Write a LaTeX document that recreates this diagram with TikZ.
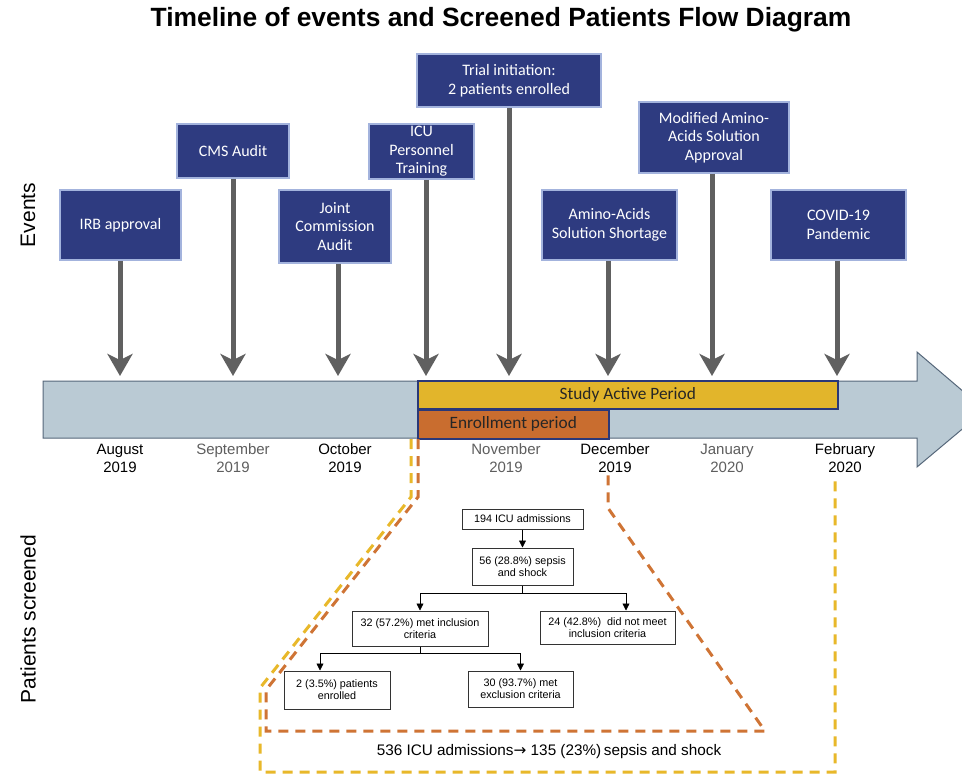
\documentclass[tikz,border=0pt]{standalone}
\usepackage{fontspec}
\setmainfont{Liberation Sans}
\newfontfamily\calib{Carlito}
\newfontfamily\djv{DejaVu Sans}
\usetikzlibrary{arrows.meta,calc}
\definecolor{navy}{HTML}{2E3B80}
\definecolor{evborder}{HTML}{A3B3DD}
\definecolor{stemgray}{HTML}{606060}
\definecolor{bandfill}{HTML}{BACAD4}
\definecolor{bandedge}{HTML}{56677A}
\definecolor{gold}{HTML}{E2B52B}
\definecolor{rust}{HTML}{C96D2F}
\definecolor{barborder}{HTML}{2A3878}
\definecolor{dashyellow}{HTML}{E8B82A}
\definecolor{dashorange}{HTML}{CF7435}
\definecolor{lightmonth}{HTML}{5E5E5E}
\begin{document}
\begin{tikzpicture}[x=1pt,y=-1pt,
  evbox/.style={draw=evborder, line width=1.5pt, fill=navy, text=white,
    font=\calib\fontsize{16}{18.5}\selectfont, align=center, inner sep=2pt},
  stem/.style={draw=stemgray, line width=5pt,
    -{Stealth[length=22pt,width=25pt,inset=6pt,fill=stemgray]}},
  month/.style={font=\fontsize{15}{18}\selectfont, align=center, text=black},
  lmonth/.style={month, text=lightmonth},
  fcbox/.style={draw=black!80, line width=1pt, fill=white,
    font=\fontsize{10.8}{12}\selectfont, align=center, inner sep=0pt},
  fcarrow/.style={draw=black, line width=0.8pt, -{Triangle[length=7pt,width=7pt]}},
  fcline/.style={draw=black, line width=0.8pt},
  dashy/.style={draw=dashyellow, line width=3pt, dash pattern=on 10pt off 7pt},
  dasho/.style={draw=dashorange, line width=3pt, dash pattern=on 10pt off 7pt},
  sidelabel/.style={font=\fontsize{21}{24}\selectfont, rotate=90},
  barlabel/.style={inner sep=0pt, anchor=north west, line width=1.5pt,
    font=\calib\fontsize{17.3}{20}\selectfont, text=black!85}
]
\useasboundingbox (0,0) rectangle (962,774);
\fill[white] (0,0) rectangle (962,774);

% title
\node[font=\bfseries\fontsize{26.4}{30}\selectfont] (title) at (501,20)
  {Timeline of events and Screened Patients Flow Diagram};

% side labels
\node[sidelabel] (evlab) at (28,215) {Events};
\node[sidelabel] (pslab) at (28,619) {Patients screened};

% timeline band
\begin{scope}
\clip (0,0) rectangle (962,774);
\draw[fill=bandfill, draw=bandedge, line width=1pt]
  (43,381) -- (917,381) -- (917,352) -- (985,410) -- (917,467) -- (917,438) -- (43,438) -- cycle;
\end{scope}

% bars
\node[barlabel, draw=barborder, fill=gold, minimum width=420pt, minimum height=28pt]
  (sap) at (417,380) {Study Active Period};
\node[barlabel, draw=barborder, fill=rust, minimum width=191pt, minimum height=29pt]
  (enr) at (417,409) {Enrollment period};

% event boxes
\node[evbox, minimum width=121pt, minimum height=70pt] (irb) at (120.5,225) {IRB approval};
\node[evbox, minimum width=112pt, minimum height=54pt] (cms) at (233,151) {CMS Audit};
\node[evbox, minimum width=112pt, minimum height=73pt] (jca) at (335,226.5) {Joint\\Commission\\Audit};
\node[evbox, minimum width=105pt, minimum height=55pt] (icu) at (421.5,151.5) {ICU\\Personnel\\Training};
\node[evbox, minimum width=184pt, minimum height=53pt] (trial) at (509,80.5) {Trial initiation:\\2 patients enrolled};
\node[evbox, minimum width=135pt, minimum height=70pt] (amino) at (609.5,225) {Amino-Acids\\Solution Shortage};
\node[evbox, minimum width=150pt, minimum height=71pt] (mod) at (714,137.5) {Modified Amino-\\Acids Solution\\Approval};
\node[evbox, minimum width=135pt, minimum height=70pt] (covid) at (838.5,225) {COVID-19\\Pandemic};

% stems
\coordinate (tl) at (0,376);
\draw[stem] (irb.south -| 120,0) -- (120,376);
\draw[stem] (cms.south) -- (cms.south |- tl);
\draw[stem] (jca.south -| 338,0) -- (338,376);
\draw[stem] (icu.south -| 426,0) -- (426,376);
\draw[stem] (trial.south) -- (trial.south |- tl);
\draw[stem] (amino.south -| 608,0) -- (608,376);
\draw[stem] (mod.south -| 712,0) -- (712,376);
\draw[stem] (covid.south -| 837,0) -- (837,376);

% months
\node[month] (aug) at (120,458) {August\\2019};
\node[lmonth] (sep) at (233,458) {September\\2019};
\node[month] (oct) at (345,458) {October\\2019};
\node[lmonth] (nov) at (506,458) {November\\2019};
\node[month] (dec) at (615,458) {December\\2019};
\node[lmonth] (jan) at (727,458) {January\\2020};
\node[month] (feb) at (845,458) {February\\2020};

% dashed zoom outlines
\draw[dashy] (411,439) -- (411,497) -- (260,688) -- (260,772) -- (835,772) -- (835,478);
\draw[dasho] (418,439) -- (418,497) -- (266,690) -- (266,731) -- (765,731) -- (608,508) -- (608,472);

% flow chart
\node[fcbox, minimum width=121pt, minimum height=20pt] (b1) at (522.5,519) {194 ICU admissions};
\node[fcbox, minimum width=101pt, minimum height=37pt] (b2) at (522.5,566.5) {56 (28.8\%) sepsis\\and shock};
\node[fcbox, minimum width=136pt, minimum height=35pt] (b3) at (420,628.5) {32 (57.2\%) met inclusion\\criteria};
\node[fcbox, minimum width=135pt, minimum height=33pt] (b4) at (607.5,627.5) {24 (42.8\%)\ \ did not meet\\inclusion criteria};
\node[fcbox, minimum width=106pt, minimum height=38pt] (b5) at (337,690) {2 (3.5\%) patients\\enrolled};
\node[fcbox, minimum width=105pt, minimum height=36pt] (b6) at (520.5,689) {30 (93.7\%) met\\exclusion criteria};

\draw[fcarrow] (b1.south) -- (b2.north);
\draw[fcline] (b2.south) -- ++(0,8) coordinate (j1);
\coordinate (b4in) at ($(b4.north)+(18.5,0)$);
\draw[fcarrow] (j1) -| (b3.north);
\draw[fcarrow] (j1) -| (b4in);
\draw[fcline] (b3.south) -- ++(0,7) coordinate (j2);
\coordinate (b5in) at ($(b5.north)+(-17,0)$);
\draw[fcarrow] (j2) -| (b5in);
\draw[fcarrow] (j2) -| (b6.north);

% bottom summary
\node[font=\fontsize{15.3}{18}\selectfont] (summary) at (549,752)
  {536 ICU admissions{\djv →} 135 (23\%)\,sepsis and shock};
\end{tikzpicture}
\end{document}
